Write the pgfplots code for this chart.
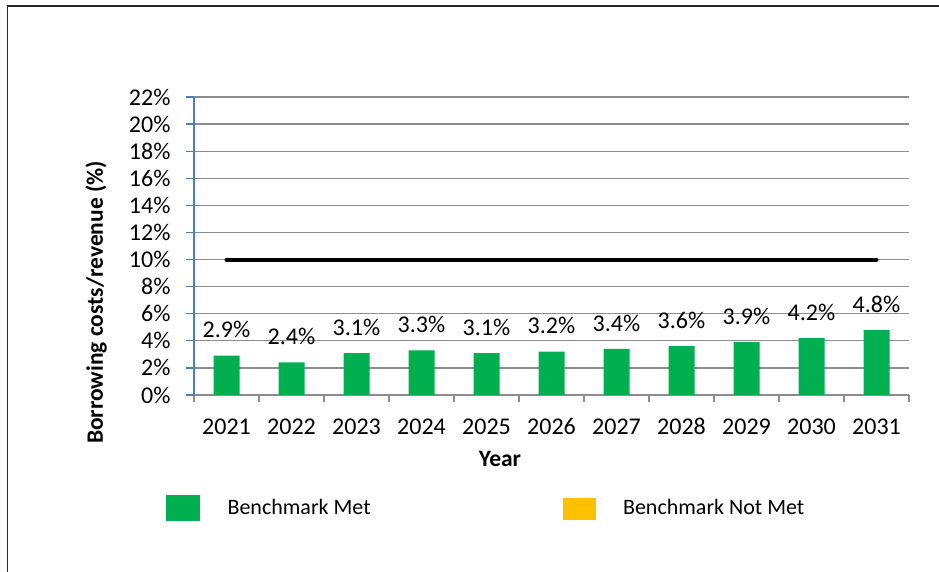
\documentclass[border=0pt]{standalone}
\usepackage{pgfplots}
\pgfplotsset{compat=1.18}
\usepackage{fontspec}
\setmainfont{Carlito}
\definecolor{bargreen}{HTML}{00B050}
\definecolor{baryellow}{HTML}{FFC000}
\definecolor{gridgray}{HTML}{8C8C8C}
\definecolor{axisblue}{HTML}{4A7EBB}
\begin{document}
\begin{tikzpicture}
\path[use as bounding box] (0,0) rectangle (939bp,572bp);
\draw[line width=1.3bp, black!85] (7.5bp,0) -- (7.5bp,566bp) -- (939bp,566bp);
\begin{axis}[
  at={(194bp,177bp)}, anchor=south west,
  scale only axis, width=715bp, height=298bp,
  xmin=-0.5, xmax=10.5, ymin=0, ymax=22,
  /pgf/number format/assume math mode=true,
  axis x line*=bottom, axis y line*=left,
  x axis line style={gridgray, line width=1.3bp, -},
  y axis line style={axisblue, line width=1.3bp, -},
  xtick={0,1,2,3,4,5,6,7,8,9,10},
  xticklabels={2021,2022,2023,2024,2025,2026,2027,2028,2029,2030,2031},
  minor xtick={-0.5,0.5,1.5,2.5,3.5,4.5,5.5,6.5,7.5,8.5,9.5,10.5},
  ytick={0,2,4,6,8,10,12,14,16,18,20,22},
  yticklabels={0\%,2\%,4\%,6\%,8\%,10\%,12\%,14\%,16\%,18\%,20\%,22\%},
  tick align=outside,
  major x tick style={draw=none},
  minor x tick style={gridgray, line width=1.3bp},
  ytick style={axisblue, line width=1.3bp},
  major tick length=8bp, minor tick length=7bp,
  ymajorgrids, xmajorgrids=false,
  major grid style={gridgray, line width=1.3bp},
  tick label style={font=\fontsize{24bp}{28bp}\selectfont},
  xticklabel style={anchor=north, text height=16bp, text depth=0pt, inner sep=0pt, yshift=-15bp},
  yticklabel style={anchor=east, xshift=-12bp},
  ylabel={Borrowing costs/revenue (\%)},
  ylabel style={font=\bfseries\fontsize{23.5bp}{28bp}\selectfont, at={(axis description cs:-0.137,0.3104)}, anchor=center},
  xlabel={Year},
  xlabel style={font=\bfseries\fontsize{23.5bp}{28bp}\selectfont, at={(axis description cs:0.428,-0.2148)}, anchor=center},
  legend columns=2,
  legend style={draw=none, fill=none, at={(axis description cs:-0.0392,-0.378)}, anchor=west,
    inner sep=0pt, font=\fontsize{22bp}{26bp}\selectfont, nodes={inner sep=0pt},
    /tikz/every odd column/.append style={column sep=28bp},
    /tikz/every even column/.append style={column sep=192bp}},
  clip=false,
]
\addlegendimage{legend image code/.code={\fill[bargreen] (0bp,-12.5bp) rectangle (33bp,12.5bp);}}
\addlegendentry{Benchmark Met}
\addlegendimage{legend image code/.code={\fill[baryellow] (-1bp,-11.5bp) rectangle (31bp,9.5bp);}}
\addlegendentry{Benchmark Not Met}
\addplot[ybar, bar width=26bp, bar shift=0pt, fill=bargreen, draw=none,
  nodes near coords={\pgfmathprintnumber[fixed,precision=1,fixed zerofill]{\pgfplotspointmeta}\%},
  every node near coord/.append style={anchor=center, yshift=26bp, text=black, font=\fontsize{24bp}{28bp}\selectfont},
  forget plot]
coordinates {(0,2.9) (1,2.4) (2,3.1) (3,3.3) (4,3.1) (5,3.2) (6,3.4) (7,3.6) (8,3.9) (9,4.2) (10,4.8)};
\addplot[black, line width=4bp, line cap=round, forget plot]
coordinates {(0,10) (10,10)};
\end{axis}
\end{tikzpicture}
\end{document}
